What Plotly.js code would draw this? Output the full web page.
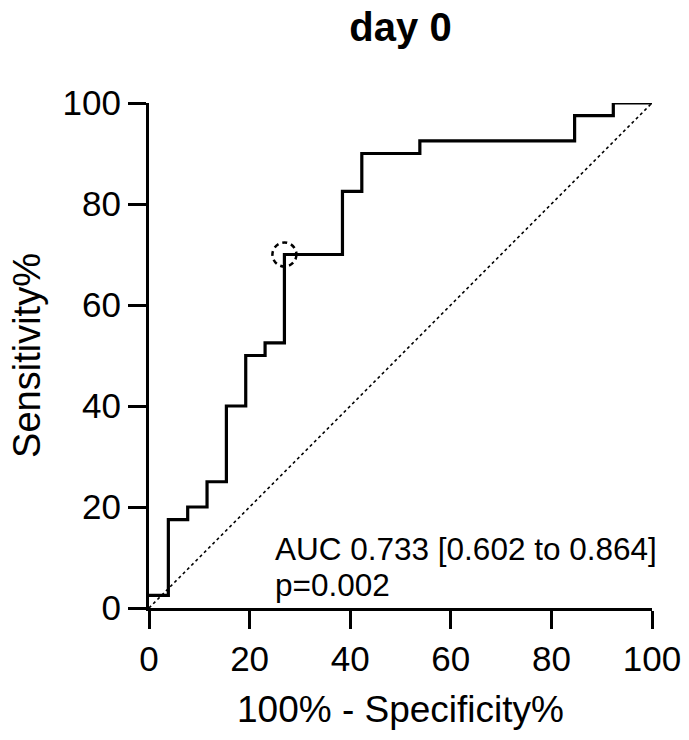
<!DOCTYPE html>
<html>
<head>
<meta charset="utf-8">
<script src="https://cdn.plot.ly/plotly-3.0.1.min.js"></script>
<style>
  html, body { margin: 0; padding: 0; background: #fff; }
  #chart { width: 689px; height: 740px; }
</style>
</head>
<body>
<div id="chart"></div>
<script>
// ROC curve, day 0: 100% - specificity (x) against sensitivity (y), in percent
const fpr = [0, 3.846, 3.846, 7.692, 7.692, 11.538, 11.538, 15.385, 15.385, 19.231, 19.231,
             23.077, 23.077, 26.923, 26.923, 38.462, 38.462, 42.308, 42.308, 53.846, 53.846,
             84.615, 84.615, 92.308, 92.308, 100];
const tpr = [2.5, 2.5, 17.5, 17.5, 20, 20, 25, 25, 40, 40, 50,
             50, 52.5, 52.5, 70, 70, 82.5, 82.5, 90, 90, 92.5,
             92.5, 97.5, 97.5, 100, 100];

// line of no discrimination
const chanceX = [0, 100];
const chanceY = [0, 100];

// chosen cut-off point on the curve
const cutoff = { x: 26.923, y: 70 };

const tickVals = [0, 20, 40, 60, 80, 100];
const tickText = ['0', '20', '40', '60', '80', '100'];

const aucText = 'AUC 0.733 [0.602 to 0.864]';
const pText = 'p=0.002';

const FONT = 'Liberation Sans, Arial, Helvetica, sans-serif';

const traces = [
  {
    x: chanceX, y: chanceY, type: 'scatter', mode: 'lines',
    line: { color: '#000', width: 1.6, dash: 'dot' },
    hoverinfo: 'skip', cliponaxis: false
  },
  {
    x: fpr, y: tpr, type: 'scatter', mode: 'lines',
    line: { color: '#000', width: 3.2, shape: 'linear' },
    cliponaxis: false
  }
];

const axisCommon = {
  range: [0, 100],
  tickmode: 'array',
  tickvals: tickVals,
  ticktext: tickText,
  ticks: 'outside',
  ticklen: 18,
  tickwidth: 3,
  tickcolor: '#000',
  showline: true,
  linecolor: '#000',
  linewidth: 3,
  showgrid: false,
  zeroline: false,
  fixedrange: true,
  tickfont: { family: FONT, size: 35, color: '#000' }
};

const layout = {
  width: 689,
  height: 740,
  margin: { l: 149, r: 37, t: 103, b: 132 },
  paper_bgcolor: '#fff',
  plot_bgcolor: '#fff',
  showlegend: false,
  title: {
    text: '<b>day 0</b>',
    font: { family: FONT, size: 40, color: '#000' },
    x: 0.5813, xanchor: 'center',
    y: 0.964, yanchor: 'middle'
  },
  xaxis: Object.assign({}, axisCommon, {
    title: { text: '100% - Specificity%', font: { family: FONT, size: 37, color: '#000' }, standoff: 20 }
  }),
  yaxis: Object.assign({}, axisCommon, {
    title: { text: 'Sensitivity%', font: { family: FONT, size: 38, color: '#000' }, standoff: 11 }
  }),
  shapes: [
    {
      type: 'circle', xref: 'x', yref: 'y',
      xsizemode: 'pixel', ysizemode: 'pixel',
      xanchor: cutoff.x, yanchor: cutoff.y,
      x0: -12, x1: 12, y0: -12, y1: 12,
      layer: 'above',
      line: { color: '#000', width: 2.5, dash: '5px,4px' }
    }
  ],
  annotations: [
    {
      text: aucText, xref: 'paper', yref: 'paper',
      x: 0.2475, y: 0.1168, xanchor: 'left', yanchor: 'middle',
      showarrow: false, font: { family: FONT, size: 31.5, color: '#000' }
    },
    {
      text: pText, xref: 'paper', yref: 'paper',
      x: 0.2475, y: 0.0455, xanchor: 'left', yanchor: 'middle',
      showarrow: false, font: { family: FONT, size: 31.5, color: '#000' }
    }
  ]
};

Plotly.newPlot('chart', traces, layout, { displayModeBar: false, staticPlot: true });
</script>
</body>
</html>
